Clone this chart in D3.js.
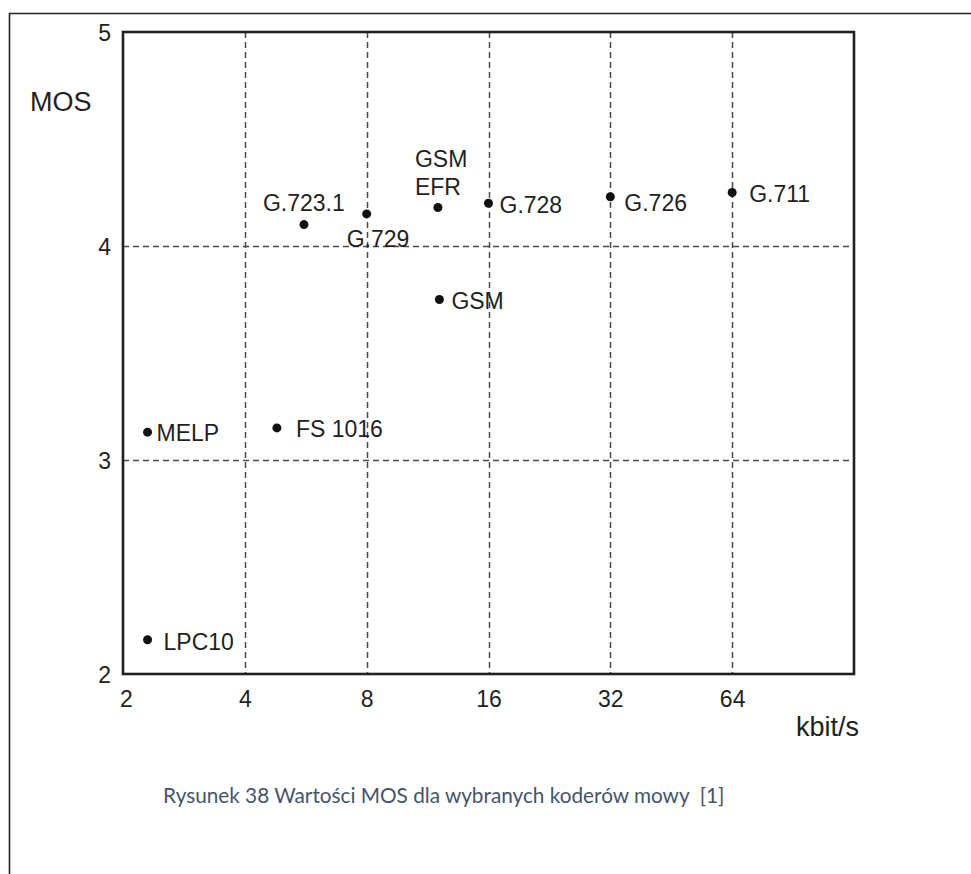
<!DOCTYPE html>
<html>
<head>
<meta charset="utf-8">
<script src="https://cdn.jsdelivr.net/npm/d3@7"></script>
<style>
  html, body { margin: 0; padding: 0; background: #fff; }
  svg { display: block; }
</style>
</head>
<body>
<script>
// Speech codecs: bit rate (kbit/s) and mean opinion score
const codecs   = ["G.723.1", "G.729", "GSM EFR", "G.728", "G.726", "G.711", "GSM", "MELP", "FS 1016", "LPC10"];
const bitrates = [5.6, 8, 12.0, 16, 32, 64, 12.1, 2.3, 4.8, 2.3];
const mosScore = [4.10, 4.15, 4.18, 4.20, 4.23, 4.25, 3.75, 3.13, 3.15, 2.16];

const xTicks = [2, 4, 8, 16, 32, 64];
const yTicks = [2, 3, 4, 5];

const xTitle = "kbit/s";
const yTitle = "MOS";
const caption = "Rysunek 38 Wartości MOS dla wybranych koderów mowy  [1]";

// Label placement relative to each dot (px): dx, dy to the first baseline
const labelPlacement = {
  "G.723.1": { dx: -41, dy: -14 },
  "G.729":   { dx: -20, dy: 33 },
  "GSM EFR": { dx: -23, dy: -40, split: true },
  "G.728":   { dx: 11,  dy: 10 },
  "G.726":   { dx: 14,  dy: 14 },
  "G.711":   { dx: 17,  dy: 9 },
  "GSM":     { dx: 12,  dy: 9 },
  "MELP":    { dx: 9,   dy: 9 },
  "FS 1016": { dx: 19,  dy: 9 },
  "LPC10":   { dx: 16,  dy: 10 }
};

const W = 971, H = 874;
const ink = "#231f20";
const font = "'Liberation Sans', Arial, Helvetica, sans-serif";

const svg = d3.select("body").append("svg")
  .attr("width", W).attr("height", H);

// page frame (top and left edges of the figure box)
svg.append("path")
  .attr("d", "M9.5,880 V13.5 H980")
  .attr("fill", "none").attr("stroke", "#222").attr("stroke-width", 1.6);

const x = d3.scaleLog().base(2).domain([2, 128]).range([123, 854]);
const y = d3.scaleLinear().domain([2, 5]).range([674, 32]);

// dashed grid
const grid = svg.append("g")
  .attr("stroke", "#4a4a4a").attr("stroke-width", 1.5)
  .attr("stroke-dasharray", "6,4").attr("fill", "none");
grid.selectAll("line.v").data(xTicks.filter(d => d > 2)).join("line")
  .attr("class", "v")
  .attr("x1", d => Math.round(x(d)) + 0.5).attr("x2", d => Math.round(x(d)) + 0.5)
  .attr("y1", y(5)).attr("y2", y(2));
grid.selectAll("line.h").data(yTicks.filter(d => d > 2 && d < 5)).join("line")
  .attr("class", "h")
  .attr("y1", d => Math.round(y(d)) + 0.5).attr("y2", d => Math.round(y(d)) + 0.5)
  .attr("x1", x(2)).attr("x2", x(128));

// plot frame
svg.append("rect")
  .attr("x", x(2)).attr("y", y(5))
  .attr("width", x(128) - x(2)).attr("height", y(2) - y(5))
  .attr("fill", "none").attr("stroke", ink).attr("stroke-width", 2.6);

// axis tick labels
const xAxis = d3.axisBottom(x).tickValues(xTicks).tickFormat(d3.format("d")).tickSize(0).tickPadding(0);
const gx = svg.append("g").attr("transform", `translate(0,${y(2)})`).call(xAxis);
gx.select(".domain").remove();
gx.selectAll("text")
  .attr("y", 33).attr("dy", null)
  .attr("font-family", font).attr("font-size", 23).attr("fill", ink);
gx.selectAll(".tick").filter(d => d === 2).select("text").attr("x", 3);

const yAxis = d3.axisLeft(y).tickValues(yTicks).tickFormat(d3.format("d")).tickSize(0).tickPadding(0);
const gy = svg.append("g").attr("transform", `translate(${x(2) - 12},0)`).call(yAxis);
gy.select(".domain").remove();
gy.selectAll("text")
  .attr("x", 0).attr("dy", "0.36em")
  .attr("font-family", font).attr("font-size", 23).attr("fill", ink);

// axis titles
svg.append("text").attr("x", 30).attr("y", 111)
  .attr("font-family", font).attr("font-size", 27).attr("fill", ink)
  .text(yTitle);
svg.append("text").attr("x", 796).attr("y", 736)
  .attr("font-family", font).attr("font-size", 27).attr("fill", ink)
  .text(xTitle);

// points and their labels
const pts = codecs.map((c, i) => ({ name: c, rate: bitrates[i], mos: mosScore[i] }));

svg.append("g").selectAll("circle").data(pts).join("circle")
  .attr("cx", d => x(d.rate)).attr("cy", d => y(d.mos))
  .attr("r", 4.5).attr("fill", "#111");

const lbl = svg.append("g")
  .attr("font-family", font).attr("font-size", 23).attr("fill", ink);
pts.forEach(d => {
  const p = labelPlacement[d.name];
  const t = lbl.append("text")
    .attr("x", x(d.rate) + p.dx).attr("y", y(d.mos) + p.dy);
  const lines = p.split ? d.name.split(" ") : [d.name];
  lines.forEach((s, i) => {
    t.append("tspan").attr("x", x(d.rate) + p.dx).attr("dy", i === 0 ? 0 : 28).text(s);
  });
});

// figure caption, sized to span its line
const cap = svg.append("text")
  .attr("x", 163).attr("y", 803)
  .attr("font-family", "Lato, 'Open Sans', sans-serif")
  .attr("font-size", 20).attr("fill", "#44546a")
  .attr("xml:space", "preserve")
  .style("white-space", "pre")
  .text(caption);
const capW = cap.node().getComputedTextLength();
cap.attr("font-size", 20 * 562 / capW);
</script>
</body>
</html>
